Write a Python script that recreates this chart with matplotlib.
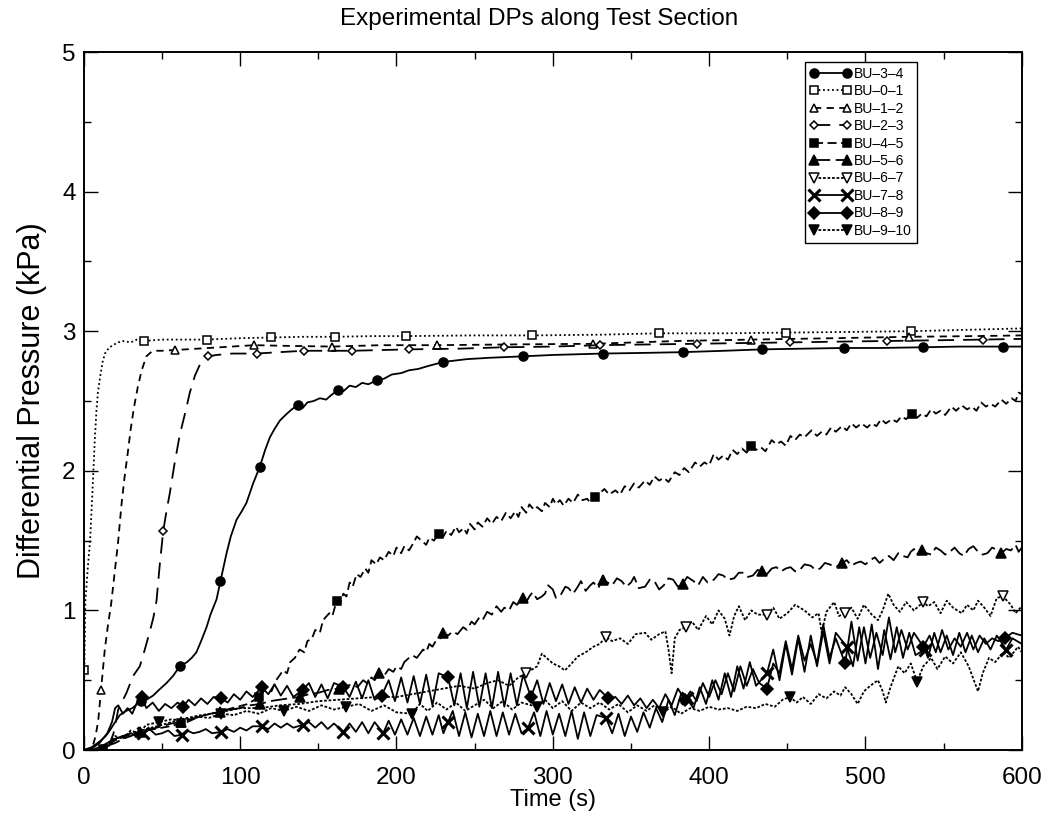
import numpy as np
import matplotlib
matplotlib.use("Agg")
import matplotlib.pyplot as plt
from matplotlib.ticker import MultipleLocator

plt.rcParams['font.family'] = ['Liberation Sans', 'DejaVu Sans']

# (time s, dp kPa)
bu_3_4 = [(0, 0.0), (5, 0.02), (10, 0.06), (14, 0.1), (16.6, 0.14), (20, 0.2), (23, 0.25), (27, 0.28),
          (31, 0.3), (36.4, 0.35), (40, 0.36), (44.3, 0.39), (48, 0.43), (52.9, 0.48), (57, 0.53),
          (61.4, 0.6), (66, 0.63), (69, 0.66), (72, 0.7), (75, 0.78), (78.5, 0.88), (81, 0.97),
          (84.9, 1.08), (87.4, 1.21), (91.3, 1.41), (94, 1.53), (97.7, 1.65), (101, 1.71), (104, 1.77),
          (108.3, 1.91), (112.6, 2.03), (116, 2.15), (119, 2.24), (122, 2.3), (125.4, 2.36), (129, 2.4),
          (133, 2.44), (136.7, 2.47), (140, 2.45), (143, 2.49), (147, 2.5), (151, 2.52), (155, 2.51),
          (158, 2.54), (162.7, 2.58), (166, 2.57), (170, 2.61), (174, 2.6), (178, 2.63), (182, 2.62),
          (187.7, 2.65), (192, 2.66), (197, 2.69), (203, 2.7), (208, 2.72), (214, 2.73), (220, 2.75),
          (230, 2.78), (245, 2.8), (260, 2.81), (281, 2.82), (300, 2.83), (332, 2.84), (360, 2.845),
          (383, 2.85), (410, 2.86), (434, 2.87), (460, 2.875), (486, 2.88), (510, 2.88), (537, 2.885),
          (560, 2.89), (588, 2.89), (600, 2.89)]
bu_0_1 = [(0, 0.0), (0.3, 0.57), (1, 1.07), (2.5, 1.3), (4, 1.5), (5.5, 1.85), (7, 2.22), (8, 2.42),
          (9, 2.56), (10.5, 2.68), (12, 2.78), (13.5, 2.84), (16, 2.88), (18.5, 2.9), (22, 2.92),
          (25, 2.93), (30, 2.92), (34, 2.94), (38.4, 2.93), (50, 2.94), (60, 2.94), (78.5, 2.94),
          (100, 2.95), (119.6, 2.955), (140, 2.96), (160.6, 2.96), (185, 2.965), (206, 2.965),
          (250, 2.97), (287, 2.97), (330, 2.975), (368, 2.985), (410, 2.985), (449, 2.99),
          (490, 2.995), (529, 3.0), (565, 3.01), (600, 3.02)]
bu_1_2 = [(0, 0.0), (4, 0.0), (6, 0.04), (7.5, 0.1), (9.2, 0.21), (11, 0.43), (13.4, 0.72), (15.5, 0.9),
          (17.5, 1.05), (19.5, 1.25), (22, 1.5), (24, 1.75), (26, 1.95), (28, 2.12), (30, 2.3),
          (32, 2.45), (34.5, 2.6), (37, 2.72), (40, 2.82), (44, 2.86), (50, 2.86), (58, 2.865),
          (80, 2.88), (109, 2.9), (130, 2.895), (159, 2.89), (190, 2.9), (226, 2.9), (270, 2.905),
          (326, 2.91), (380, 2.93), (427, 2.94), (480, 2.95), (528, 2.96), (570, 2.965), (600, 2.97)]
bu_2_3 = [(0, 0.0), (12, 0.0), (16, 0.03), (19, 0.12), (22, 0.29), (27.3, 0.41), (31.5, 0.53),
          (35.8, 0.6), (39, 0.72), (42, 0.84), (44.5, 0.95), (46.5, 1.07), (48.5, 1.32), (50.8, 1.57),
          (53, 1.72), (55, 1.84), (58, 2.05), (61.4, 2.26), (64.5, 2.4), (67.8, 2.56), (71, 2.68),
          (74.2, 2.76), (77, 2.8), (79.5, 2.82), (85, 2.83), (95, 2.84), (110.5, 2.84), (125, 2.85),
          (141, 2.86), (155, 2.86), (171.7, 2.86), (190, 2.865), (208, 2.87), (240, 2.875),
          (269, 2.885), (300, 2.89), (330, 2.9), (360, 2.905), (392, 2.91), (420, 2.915), (452, 2.92),
          (480, 2.925), (513.5, 2.93), (545, 2.935), (575, 2.94), (600, 2.945)]
bu_4_5 = [(0, 0.0), (10, 0.0), (12, 0.01), (15, 0.03), (20, 0.07), (27, 0.1), (35, 0.13), (45, 0.15),
          (55, 0.17), (62, 0.19), (66, 0.2), (74, 0.24), (85, 0.27), (95, 0.3), (105, 0.33), (112, 0.38),
          (117, 0.45), (120, 0.42), (123, 0.5), (127.5, 0.57), (130, 0.55), (132, 0.63), (135, 0.66),
          (138, 0.72), (141, 0.7), (143, 0.78), (146, 0.8), (148, 0.86), (151, 0.84), (153, 0.93),
          (157, 0.98), (159, 0.96), (161.7, 1.07), (164, 1.05), (166, 1.12), (168, 1.1), (170, 1.2),
          (172, 1.17), (174.5, 1.26), (177, 1.24), (180, 1.3), (182, 1.27), (184, 1.36), (187, 1.33),
          (189.4, 1.38), (192, 1.36), (195, 1.42), (198, 1.39), (200, 1.45), (203, 1.41), (205, 1.46),
          (208, 1.43), (210.7, 1.48), (213, 1.53), (216, 1.5), (219, 1.47), (221, 1.52), (224, 1.5),
          (227, 1.55), (230, 1.53), (232, 1.57), (235, 1.54), (238, 1.6), (240, 1.56), (243, 1.59),
          (245, 1.55), (247, 1.62), (250, 1.58), (252, 1.63), (255, 1.6), (258, 1.66), (261, 1.62),
          (264, 1.67), (267, 1.64), (270, 1.7), (273, 1.66), (276, 1.71), (278, 1.67), (280, 1.74),
          (283, 1.7), (285, 1.76), (288, 1.72), (290, 1.74), (293, 1.71), (295, 1.77), (298, 1.74),
          (300, 1.8), (302, 1.76), (304.5, 1.79), (307, 1.75), (310, 1.8), (313, 1.77), (316, 1.83),
          (319, 1.79), (322, 1.8), (324, 1.77), (327, 1.81), (330, 1.84), (333, 1.87), (336, 1.83),
          (340, 1.86), (343, 1.83), (346, 1.89), (349, 1.86), (352, 1.91), (355, 1.88), (359, 1.93),
          (362, 1.9), (365, 1.96), (368, 1.93), (371, 1.95), (374, 1.92), (378, 1.99), (381, 1.97),
          (384, 2.02), (387, 1.99), (391, 2.06), (394, 2.03), (397, 2.06), (400, 2.04), (403, 2.12),
          (406, 2.08), (409, 2.11), (412, 2.08), (415, 2.15), (418, 2.12), (421, 2.16), (424, 2.13),
          (427, 2.18), (430, 2.15), (433, 2.17), (436, 2.14), (440, 2.22), (443, 2.19), (446, 2.21),
          (449, 2.18), (452, 2.25), (455, 2.22), (458, 2.26), (461, 2.24), (465.5, 2.29), (469, 2.25),
          (472, 2.28), (475, 2.26), (478, 2.31), (481, 2.28), (485, 2.32), (488, 2.29), (491, 2.34),
          (494, 2.31), (497.5, 2.34), (501, 2.31), (504, 2.34), (507, 2.32), (510, 2.37), (513, 2.34),
          (517, 2.37), (520, 2.35), (523, 2.39), (526, 2.37), (529.5, 2.41), (533, 2.38), (536, 2.41),
          (539, 2.39), (542, 2.44), (545, 2.41), (548, 2.43), (551, 2.4), (555, 2.46), (558, 2.43),
          (561.5, 2.47), (565, 2.44), (568, 2.46), (571, 2.43), (574, 2.49), (577, 2.46), (580, 2.48),
          (583, 2.46), (587, 2.51), (590, 2.48), (593.5, 2.52), (596, 2.5), (598, 2.56), (600, 2.55)]
bu_5_6 = [(0, 0.0), (10, 0.0), (15, 0.03), (20, 0.05), (25, 0.08), (30, 0.1), (36, 0.13), (43, 0.15),
          (50, 0.17), (56, 0.19), (62, 0.2), (68, 0.22), (75, 0.24), (81, 0.26), (87, 0.27), (94, 0.29),
          (100, 0.3), (106, 0.32), (113, 0.33), (119, 0.35), (125, 0.36), (131, 0.37), (138, 0.38),
          (144, 0.4), (150, 0.41), (156, 0.43), (163, 0.44), (168, 0.46), (172, 0.47), (175, 0.45),
          (178.7, 0.5), (181, 0.48), (184, 0.52), (186, 0.5), (189, 0.55), (192, 0.53), (195, 0.58),
          (198, 0.56), (200, 0.6), (203, 0.58), (205, 0.63), (208, 0.66), (210, 0.68), (213, 0.66),
          (217, 0.72), (219, 0.7), (221, 0.76), (223, 0.74), (225.6, 0.79), (228, 0.8), (230, 0.84),
          (233, 0.82), (236, 0.85), (239, 0.83), (242.7, 0.88), (245, 0.86), (248, 0.92), (250, 0.9),
          (253, 0.95), (255, 0.93), (258, 0.99), (261, 0.97), (264, 1.03), (267, 0.99), (269, 1.02),
          (272, 1.0), (274.7, 1.06), (277, 1.04), (281, 1.09), (283, 1.06), (285, 1.1), (287, 1.13),
          (290, 1.08), (293, 1.1), (295, 1.12), (297, 1.18), (300, 1.15), (302, 1.09), (305, 1.11),
          (308, 1.17), (310, 1.16), (313, 1.12), (316, 1.17), (318, 1.21), (321, 1.14), (324, 1.18),
          (326, 1.2), (329, 1.16), (332, 1.22), (335, 1.2), (338, 1.18), (341, 1.23), (344, 1.21),
          (347, 1.17), (350, 1.2), (352, 1.24), (355, 1.16), (359, 1.17), (362, 1.22), (365, 1.21),
          (368, 1.15), (371, 1.18), (374, 1.23), (377, 1.22), (380, 1.17), (383, 1.19), (386, 1.24),
          (390, 1.21), (393, 1.18), (396, 1.24), (399, 1.2), (403, 1.22), (406, 1.26), (409, 1.25),
          (412, 1.22), (416, 1.23), (419, 1.27), (422, 1.27), (425, 1.24), (428, 1.25), (431, 1.29),
          (434, 1.28), (437, 1.26), (440, 1.3), (443, 1.31), (446, 1.28), (449, 1.3), (452, 1.31),
          (455, 1.28), (458, 1.29), (461, 1.33), (465, 1.32), (468, 1.29), (471, 1.3), (474, 1.34),
          (477, 1.33), (481, 1.31), (485, 1.34), (488, 1.36), (491, 1.32), (494, 1.34), (497, 1.35),
          (500, 1.33), (503, 1.36), (506, 1.38), (509, 1.34), (512, 1.37), (515, 1.39), (518, 1.36),
          (521, 1.41), (524, 1.39), (527, 1.38), (529, 1.42), (531, 1.44), (533, 1.4), (536, 1.43),
          (539, 1.41), (542, 1.4), (545, 1.45), (548, 1.43), (551, 1.4), (554, 1.42), (557, 1.45),
          (560, 1.41), (563, 1.39), (566, 1.44), (569, 1.46), (572, 1.42), (575, 1.4), (578, 1.41),
          (581, 1.45), (583, 1.44), (587, 1.41), (590, 1.44), (593, 1.43), (596, 1.47), (598, 1.42),
          (600, 1.45)]
bu_6_7 = [(0, 0.0), (10, 0.0), (20, 0.08), (30, 0.12), (40, 0.15), (50, 0.18), (62, 0.22), (75, 0.25),
          (87, 0.27), (100, 0.3), (113, 0.3), (125, 0.32), (138, 0.33), (150, 0.35), (163, 0.36),
          (175, 0.37), (188, 0.38), (200, 0.38), (210, 0.4), (220, 0.42), (230, 0.44), (240, 0.46),
          (250, 0.44), (258, 0.48), (265, 0.5), (272, 0.46), (278, 0.52), (283, 0.55), (290, 0.6),
          (293, 0.69), (295, 0.67), (300, 0.62), (304, 0.6), (307.7, 0.57), (312, 0.62), (316, 0.67),
          (321, 0.7), (326, 0.74), (330, 0.76), (334, 0.81), (338, 0.78), (343, 0.8), (348, 0.76),
          (353, 0.83), (359, 0.84), (363, 0.79), (368, 0.83), (372, 0.85), (374, 0.72), (376, 0.55),
          (378, 0.8), (381, 0.86), (385, 0.88), (389, 0.92), (393, 0.86), (398, 0.96), (402, 0.9),
          (406, 1.0), (410, 0.94), (413, 0.82), (416, 0.96), (419, 1.03), (423, 0.93), (427, 1.0),
          (431, 0.97), (437, 0.97), (441, 1.02), (445, 0.94), (450, 0.98), (455, 1.04), (461, 1.0),
          (466, 0.95), (470, 0.98), (472, 0.84), (475, 0.99), (480, 1.06), (483, 0.96), (487, 0.98),
          (491, 1.02), (495, 0.94), (499, 1.04), (504, 0.97), (508, 0.93), (511, 1.0), (514.6, 1.12),
          (518, 1.04), (522, 0.99), (526, 1.06), (531, 1.0), (537, 1.06), (540, 1.03), (544, 1.06),
          (548, 0.98), (552, 1.07), (556, 1.02), (561.6, 0.98), (565, 1.04), (569, 1.0), (572, 1.07),
          (576, 1.02), (580, 0.96), (584, 1.09), (588, 1.1), (593, 1.04), (596, 0.98), (600, 1.03)]
bu_7_8 = [(0, 0.0), (5, 0.0), (10, 0.02), (15, 0.05), (20, 0.08), (25, 0.1), (30, 0.12), (34, 0.1),
          (38, 0.12), (42, 0.15), (46, 0.11), (50, 0.12), (54, 0.14), (58, 0.1), (62.5, 0.11), (66, 0.14),
          (70, 0.12), (74, 0.13), (78, 0.15), (82, 0.12), (88, 0.13), (92, 0.15), (96, 0.13), (100, 0.16),
          (104, 0.14), (108, 0.17), (113.7, 0.17), (118, 0.15), (122, 0.19), (126, 0.16), (130, 0.19),
          (134, 0.16), (140, 0.18), (144, 0.2), (148, 0.16), (152, 0.2), (156, 0.15), (160, 0.19),
          (166, 0.13), (170, 0.19), (174, 0.13), (178, 0.2), (182, 0.12), (186, 0.2), (191.5, 0.12),
          (195, 0.21), (199, 0.11), (203, 0.22), (207, 0.11), (211, 0.23), (215, 0.1), (219, 0.24),
          (223, 0.11), (227, 0.25), (230, 0.12), (233, 0.2), (236, 0.28), (240, 0.1), (244, 0.27),
          (248, 0.09), (252, 0.26), (256, 0.1), (260, 0.28), (264, 0.1), (268, 0.27), (272, 0.11),
          (276, 0.26), (280, 0.12), (284, 0.155), (288, 0.27), (292, 0.1), (296, 0.28), (300, 0.11),
          (304, 0.26), (308, 0.1), (312, 0.28), (316, 0.08), (320, 0.27), (324, 0.1), (328, 0.25),
          (334, 0.23), (338, 0.12), (342, 0.26), (346, 0.1), (350, 0.24), (354, 0.13), (358, 0.27),
          (362, 0.16), (366, 0.3), (370, 0.2), (374, 0.36), (378, 0.25), (382, 0.4), (385.6, 0.37),
          (390, 0.3), (394, 0.45), (398, 0.33), (402, 0.5), (406, 0.36), (410, 0.55), (414, 0.38),
          (418, 0.6), (422, 0.44), (426, 0.63), (430, 0.46), (437, 0.55), (441, 0.72), (445, 0.5),
          (449, 0.76), (453, 0.54), (457, 0.8), (461, 0.56), (465, 0.82), (469, 0.6), (473, 0.85),
          (477, 0.62), (481, 0.84), (488, 0.74), (492, 0.6), (496, 0.88), (500, 0.62), (504, 0.9),
          (508, 0.58), (512, 0.86), (516, 0.65), (520, 0.88), (524, 0.66), (528, 0.84), (532, 0.68),
          (538, 0.72), (540, 0.66), (544, 0.84), (548, 0.7), (552, 0.82), (556, 0.68), (560, 0.84),
          (564, 0.7), (568, 0.82), (572, 0.7), (576, 0.8), (580, 0.72), (584, 0.82), (590, 0.72),
          (594, 0.8), (600, 0.76)]
bu_8_9 = [(0, 0.0), (5, 0.01), (10, 0.05), (15, 0.12), (18, 0.2), (20, 0.3), (22, 0.32), (25, 0.26),
          (28, 0.3), (31, 0.26), (34, 0.34), (37, 0.38), (40, 0.3), (44, 0.34), (48, 0.28), (52, 0.33),
          (56, 0.3), (60, 0.34), (63.5, 0.31), (67, 0.36), (71, 0.32), (75, 0.37), (79, 0.33), (83, 0.38),
          (88, 0.37), (92, 0.34), (96, 0.4), (100, 0.36), (104, 0.42), (108, 0.38), (113.7, 0.45),
          (118, 0.4), (122, 0.47), (126, 0.39), (130, 0.46), (134, 0.38), (140, 0.43), (144, 0.48),
          (148, 0.38), (152, 0.47), (156, 0.37), (160, 0.48), (166, 0.45), (170, 0.38), (174, 0.49),
          (178, 0.37), (182, 0.5), (186, 0.36), (190.5, 0.39), (195, 0.5), (199, 0.35), (203, 0.52),
          (207, 0.34), (211, 0.53), (215, 0.33), (219, 0.54), (223, 0.32), (227, 0.55), (233, 0.52),
          (237, 0.32), (241, 0.55), (245, 0.3), (249, 0.56), (253, 0.31), (257, 0.55), (261, 0.3),
          (265, 0.56), (269, 0.31), (273, 0.55), (277, 0.32), (281, 0.54), (286, 0.38), (290, 0.5),
          (294, 0.33), (298, 0.48), (302, 0.35), (306, 0.47), (310, 0.33), (314, 0.45), (318, 0.34),
          (322, 0.44), (326, 0.36), (330, 0.43), (335.5, 0.37), (340, 0.38), (344, 0.33), (348, 0.39),
          (352, 0.32), (356, 0.37), (360, 0.3), (364, 0.36), (368, 0.3), (372, 0.4), (376, 0.32),
          (380, 0.44), (384.5, 0.36), (388, 0.42), (392, 0.35), (396, 0.48), (400, 0.38), (404, 0.5),
          (408, 0.4), (412, 0.55), (416, 0.42), (420, 0.6), (424, 0.46), (428, 0.58), (432, 0.48),
          (437, 0.44), (441, 0.62), (445, 0.55), (449, 0.78), (453, 0.58), (457, 0.82), (461, 0.64),
          (465, 0.76), (469, 0.62), (473, 0.9), (477, 0.66), (481, 0.8), (487, 0.62), (491, 0.92),
          (495, 0.64), (499, 0.88), (503, 0.66), (507, 0.84), (511, 0.68), (515, 0.95), (519, 0.7),
          (523, 0.86), (527, 0.72), (531, 0.84), (537, 0.74), (541, 0.82), (545, 0.7), (549, 0.86),
          (553, 0.72), (557, 0.8), (561, 0.74), (565, 0.84), (569, 0.72), (573, 0.82), (577, 0.76),
          (581, 0.8), (585, 0.78), (589, 0.8), (594, 0.84), (600, 0.82)]
bu_9_10 = [(0, 0.0), (10, 0.0), (15, 0.04), (20, 0.1), (25, 0.08), (30, 0.14), (35, 0.12), (40, 0.18),
           (48, 0.2), (56, 0.22), (64, 0.21), (72, 0.24), (80, 0.23), (88, 0.26), (96, 0.25), (104, 0.28),
           (112, 0.26), (120, 0.3), (128, 0.28), (136, 0.31), (144, 0.28), (152, 0.32), (160, 0.29),
           (168, 0.31), (176, 0.33), (184, 0.28), (192, 0.32), (200, 0.27), (209.6, 0.26), (215, 0.33),
           (220, 0.28), (226, 0.34), (232, 0.29), (238, 0.34), (244, 0.28), (250, 0.32), (256, 0.36),
           (262, 0.3), (268, 0.35), (274, 0.29), (280, 0.34), (289.6, 0.31), (295, 0.36), (300, 0.3),
           (306, 0.35), (312, 0.28), (318, 0.34), (324, 0.3), (330, 0.34), (336, 0.29), (342, 0.33),
           (348, 0.27), (354, 0.32), (360, 0.28), (365, 0.32), (370.6, 0.27), (376, 0.31), (382, 0.26),
           (388, 0.3), (394, 0.28), (400, 0.31), (406, 0.29), (412, 0.3), (418, 0.28), (424, 0.31),
           (430, 0.3), (436, 0.33), (442, 0.31), (447, 0.36), (451.7, 0.38), (456, 0.34), (460, 0.38),
           (465, 0.33), (470, 0.4), (475, 0.37), (480, 0.42), (484, 0.39), (487, 0.45), (491, 0.4),
           (495, 0.33), (499, 0.42), (503, 0.46), (508, 0.5), (511, 0.42), (513, 0.34), (516, 0.45),
           (521, 0.6), (525, 0.55), (529, 0.62), (533, 0.49), (537, 0.6), (542, 0.66), (546, 0.58),
           (551, 0.67), (556, 0.62), (561, 0.7), (566, 0.6), (572, 0.42), (575, 0.55), (579, 0.66),
           (583, 0.63), (588, 0.7), (592, 0.66), (597.6, 0.74), (600, 0.7)]

# times where the symbols sit on each trace
mk_3_4 = [36.4, 61.4, 87.4, 112.6, 136.7, 162.7, 187.7, 230, 281, 332, 383, 434, 486, 537, 588]
mk_0_1 = [0.3, 38.4, 78.5, 119.6, 160.6, 206, 287, 368, 449, 529]
mk_1_2 = [11, 58, 109, 159, 226, 326, 427, 528]
mk_2_3 = [50.8, 79.5, 110.5, 141, 171.7, 208, 269, 330, 392, 452, 513.5, 575]
mk_4_5 = [12, 62, 112, 161.7, 227, 327, 427, 529.5]
mk_5_6 = [36, 62, 87, 113, 138, 163, 189, 230, 281, 332, 383, 434, 485, 536, 587]
mk_6_7 = [283, 334, 385, 437, 487, 537, 588]
mk_7_8 = [38, 62.5, 88, 113.7, 140, 166, 191.5, 233, 284, 334, 385.6, 437, 488, 538, 590]
mk_8_9 = [37, 63.5, 88, 113.7, 140, 166, 190.5, 233, 286, 335.5, 384.5, 437, 487, 537, 589]
mk_9_10 = [48, 88, 128, 168, 209.6, 289.6, 370.6, 451.7, 533]

labels = ["BU–3–4", "BU–0–1", "BU–1–2", "BU–2–3", "BU–4–5",
          "BU–5–6", "BU–6–7", "BU–7–8", "BU–8–9", "BU–9–10"]
traces = [bu_3_4, bu_0_1, bu_1_2, bu_2_3, bu_4_5, bu_5_6, bu_6_7, bu_7_8, bu_8_9, bu_9_10]
marks = [mk_3_4, mk_0_1, mk_1_2, mk_2_3, mk_4_5, mk_5_6, mk_6_7, mk_7_8, mk_8_9, mk_9_10]

# line style, marker, filled?, marker size
styles = [
    ('-', 'o', True, 6.5),
    ((0, (1, 1.5)), 's', False, 6),
    ((0, (4, 3)), '^', False, 6),
    ((0, (9, 5)), 'D', False, 4.5),
    ((0, (5, 2.5)), 's', True, 5.5),
    ((0, (9, 3)), '^', True, 6.5),
    ((0, (1.5, 1)), 'v', False, 6.5),
    ('-', 'x', True, 8),
    ('-', 'D', True, 6.5),
    ((0, (1.5, 1)), 'v', True, 6.5),
]

fig = plt.figure(figsize=(10.48, 8.14), dpi=100)
ax = fig.add_axes([0.080, 0.0786, 0.895, 0.8575])

for lab, data, mk, (ls, m, filled, ms) in zip(labels, traces, marks, styles):
    arr = np.array(data)
    t, v = arr[:, 0], arr[:, 1]
    idx = [int(np.argmin(np.abs(t - x))) for x in mk]
    ax.plot(t, v, color='black', linestyle=ls, linewidth=1.3,
            marker=m, markevery=idx, markersize=ms,
            markerfacecolor='black' if filled else 'white',
            markeredgecolor='black',
            markeredgewidth=2.2 if m == 'x' else 1.1,
            label=lab)

ax.set_xlim(0, 600)
ax.set_ylim(0, 5)
ax.xaxis.set_major_locator(MultipleLocator(100))
ax.xaxis.set_minor_locator(MultipleLocator(50))
ax.yaxis.set_major_locator(MultipleLocator(1))
ax.yaxis.set_minor_locator(MultipleLocator(0.5))
ax.tick_params(which='both', direction='in', top=True, right=True, width=1.0)
ax.tick_params(which='major', length=10, labelsize=17.5)
ax.tick_params(axis='x', which='major', pad=12)
ax.tick_params(axis='y', which='major', pad=6)
ax.tick_params(which='minor', length=5)
for sp in ax.spines.values():
    sp.set_linewidth(1.4)

ax.set_xlabel("Time (s)", fontsize=17, labelpad=0)
ax.set_ylabel("Differential Pressure (kPa)", fontsize=22, labelpad=11)
fig.text(0.514, 0.977, "Experimental DPs along Test Section", fontsize=17.5,
         ha='center', va='center')

leg = ax.legend(loc='upper right', bbox_to_anchor=(0.888, 0.986), borderaxespad=0,
                fontsize=10, numpoints=2, handlelength=3.0, handletextpad=0.2,
                labelspacing=0.25, borderpad=0.35, fancybox=False, framealpha=1,
                edgecolor='black')
leg.get_frame().set_linewidth(1.0)

fig.savefig("out.png", dpi=100)
